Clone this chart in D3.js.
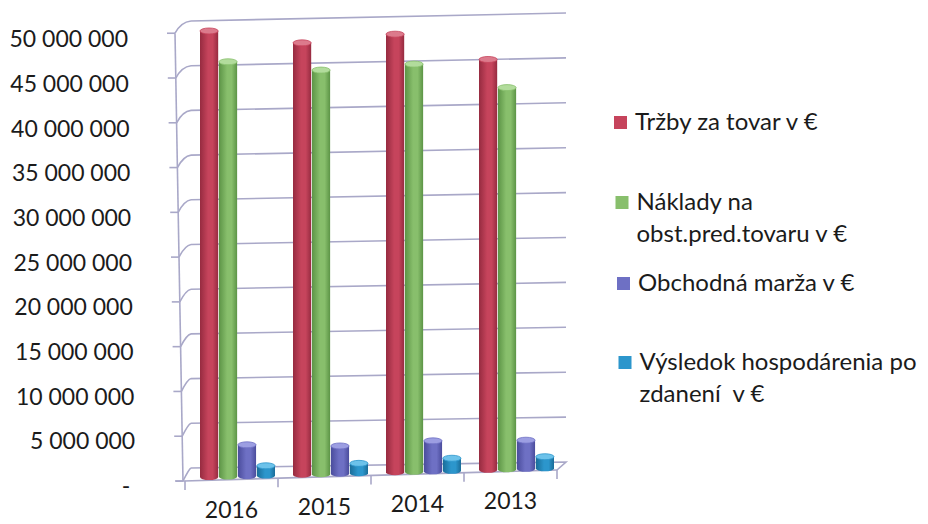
<!DOCTYPE html>
<html>
<head>
<meta charset="utf-8">
<script src="https://cdn.jsdelivr.net/npm/d3@7"></script>
<style>
  body { margin: 0; background: #fff; }
  svg { display: block; font-family: Lato, "Open Sans", sans-serif; }
  .lbl { fill: #1b1b1b; white-space: pre; }
</style>
</head>
<body>
<svg id="chart" width="928" height="524"></svg>
<script>
// --- Data ---
const years = ["2016", "2015", "2014", "2013"];
const seriesNames = ["Tržby za tovar v €", "Náklady na obst.pred.tovaru v €", "Obchodná marža v €", "Výsledok hospodárenia po zdanení  v €"];
const trzby = [49900000, 48300000, 49000000, 45900000];
const naklady = [46400000, 45200000, 45600000, 42700000];
const marza = [3500000, 3100000, 3400000, 3200000];
const vysledok = [1100000, 1100000, 1400000, 1300000];
const yTicks = [0, 5e6, 10e6, 15e6, 20e6, 25e6, 30e6, 35e6, 40e6, 45e6, 50e6];
const legendLines = [["Tržby za tovar v €"], ["Náklady na", "obst.pred.tovaru v €"], ["Obchodná marža v €"], ["Výsledok hospodárenia po", "zdanení  v €"]];

const series = [trzby, naklady, marza, vysledok];
const colors = ["#c6445c", "#88bf6c", "#6e70c4", "#2c96cc"];
const darks = ["#962b40", "#5c9446", "#4a4c9c", "#1a6c98"];
const lights = ["#dc7a8c", "#b2dc9c", "#9c9ee2", "#6cc2ea"];

const svg = d3.select("#chart");
const fmt = d3.formatLocale({ decimal: ",", thousands: " ", grouping: [3], currency: ["", ""] }).format(",");

// --- pseudo 3D geometry ---
const hScale = d3.scaleLinear().domain([0, 50e6]).range([0, 447]);
const frontY0 = x => 481 - (x - 183) * (11 / 374);   // floor front edge
const backY0 = x => 468 - (x - 190) * (6 / 375);      // floor back edge
const axisX = v => 183 - 8 * v / 50e6;                // tilted value axis
const backLeft = 191, backRight = 566;

const x0 = d3.scaleBand().domain(years).range([185, 557]);
const x1 = d3.scaleBand().domain(d3.range(4)).range([15, 90]).paddingInner(0.04);

const grid = svg.append("g").attr("stroke", "#a9a8c8").attr("stroke-width", 1.6).attr("fill", "none");

// back wall gridlines + side connectors
yTicks.forEach(v => {
  const yl = backY0(backLeft) - hScale(v);
  const yr = backY0(backRight) - hScale(v) - 2 * v / 50e6;
  const ax = axisX(v), fy = frontY0(ax) - hScale(v) * (448 / 447);
  if (v > 0) grid.append("line").attr("x1", backLeft).attr("y1", yl).attr("x2", backRight).attr("y2", yr);
  grid.append("path").attr("d", `M${ax},${fy} Q${ax + 6},${yl + 1} ${backLeft},${yl}`);
  grid.append("line").attr("x1", ax - 8).attr("y1", fy).attr("x2", ax).attr("y2", fy);
});

// floor
grid.append("path").attr("d",
  `M${backLeft},${backY0(backLeft)} L${backRight},${backY0(backRight)} L${557},${frontY0(557)}`);
grid.append("line").attr("x1", 176).attr("y1", frontY0(176)).attr("x2", 557).attr("y2", frontY0(557));
// value axis
grid.append("line").attr("x1", axisX(0)).attr("y1", frontY0(axisX(0))).attr("x2", axisX(50e6)).attr("y2", frontY0(axisX(50e6)) - hScale(50e6) * (448 / 447));
// category ticks
[185, ...years.map(y => x0(y) + x0.bandwidth())].forEach(x => {
  grid.append("line").attr("x1", x).attr("y1", frontY0(x)).attr("x2", x).attr("y2", frontY0(x) + 9);
});

// value labels
svg.append("g").selectAll("text").data(yTicks).join("text")
  .attr("class", "lbl")
  .attr("x", v => v === 0 ? 126 : axisX(v) - 47)
  .attr("y", v => frontY0(axisX(v)) - hScale(v) + 5)
  .attr("dy", "0.35em")
  .attr("text-anchor", v => v === 0 ? "middle" : "end")
  .attr("font-size", 23)
  .text(v => v === 0 ? "-" : fmt(v));

// category labels
svg.append("g").selectAll("text").data(years).join("text")
  .attr("class", "lbl")
  .attr("x", d => x0(d) + x0.bandwidth() / 2)
  .attr("y", d => frontY0(x0(d) + x0.bandwidth() / 2) + 38)
  .attr("text-anchor", "middle")
  .attr("font-size", 23)
  .text(d => d);

// gradients
const defs = svg.append("defs");
colors.forEach((c, i) => {
  const g = defs.append("linearGradient").attr("id", "g" + i).attr("x1", 0).attr("x2", 1).attr("y1", 0).attr("y2", 0);
  g.append("stop").attr("offset", 0).attr("stop-color", darks[i]);
  g.append("stop").attr("offset", 0.45).attr("stop-color", c);
  g.append("stop").attr("offset", 0.7).attr("stop-color", c);
  g.append("stop").attr("offset", 1).attr("stop-color", darks[i]);
});

// bars (cylinders)
const depth = 0.25;
const bars = svg.append("g");
years.forEach((yr, j) => {
  series.forEach((vals, i) => {
    const w = x1.bandwidth();
    const x = x0(yr) + x1(i);
    const base = frontY0(x + w / 2) * (1 - depth) + backY0(x + w / 2) * depth;
    const top = base - hScale(vals[j]);
    const rx = w / 2, ry = 3;
    bars.append("path")
      .attr("d", `M${x},${top} L${x},${base} A${rx},${ry} 0 0 0 ${x + w},${base} L${x + w},${top} Z`)
      .attr("fill", `url(#g${i})`);
    bars.append("ellipse")
      .attr("cx", x + rx).attr("cy", top).attr("rx", rx).attr("ry", ry)
      .attr("fill", lights[i]).attr("stroke", colors[i]).attr("stroke-width", 0.8);
  });
});

// legend
const legendY = [122, 202, 283, 362];
const legend = svg.append("g");
legendLines.forEach((lines, i) => {
  const gx = 614 + i * 1.5, gy = legendY[i];
  legend.append("rect").attr("x", gx).attr("y", gy - 6).attr("width", 13).attr("height", 13).attr("fill", colors[i]);
  lines.forEach((t, k) => {
    legend.append("text").attr("class", "lbl")
      .attr("x", gx + 21).attr("y", gy + k * 32).attr("dy", "0.35em")
      .attr("font-size", 24).text(t);
  });
});
</script>
</body>
</html>
